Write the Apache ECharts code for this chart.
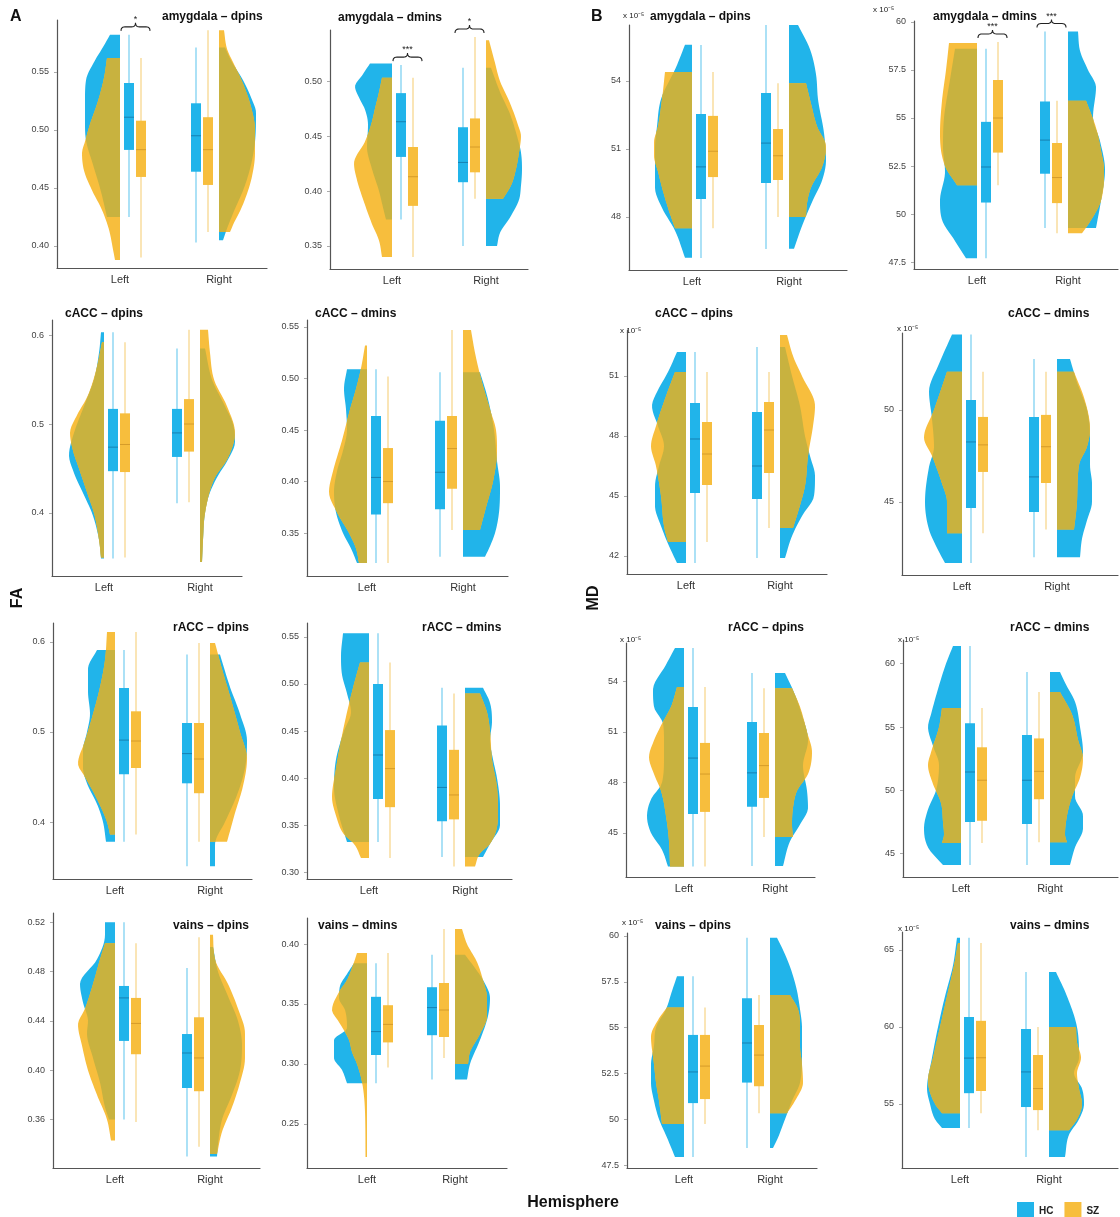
<!DOCTYPE html>
<html><head><meta charset="utf-8">
<script src="https://cdn.jsdelivr.net/npm/echarts@6/dist/echarts.min.js"></script>
<style>html,body{margin:0;padding:0;background:#fff}#c{width:1120px;height:1217px}</style>
</head><body><div id="c"></div>
<script>
// ---------------- DATA ----------------
const hemispheres = ['Left', 'Right'];
const groups = ['HC', 'SZ'];
const panelTitles = [
  'amygdala – dpins','amygdala – dmins','amygdala – dpins','amygdala – dmins',
  'cACC – dpins','cACC – dmins','cACC – dpins','cACC – dmins',
  'rACC – dpins','rACC – dmins','rACC – dpins','rACC – dmins',
  'vains – dpins','vains – dmins','vains – dpins','vains – dmins'];
const isMD = [false,false,true,true, false,false,true,true, false,false,true,true, false,false,true,true];
const yTicks = [
  [0.40,0.45,0.50,0.55],[0.35,0.40,0.45,0.50],[48,51,54],[47.5,50,52.5,55,57.5,60],
  [0.4,0.5,0.6],[0.35,0.40,0.45,0.50,0.55],[42,45,48,51],[45,50],
  [0.4,0.5,0.6],[0.30,0.35,0.40,0.45,0.50,0.55],[45,48,51,54],[45,50,55,60],
  [0.36,0.40,0.44,0.48,0.52],[0.25,0.30,0.35,0.40],[47.5,50,52.5,55,57.5,60],[55,60,65]];
const yTickLabels = [
  ['0.40','0.45','0.50','0.55'],['0.35','0.40','0.45','0.50'],['48','51','54'],['47.5','50','52.5','55','57.5','60'],
  ['0.4','0.5','0.6'],['0.35','0.40','0.45','0.50','0.55'],['42','45','48','51'],['45','50'],
  ['0.4','0.5','0.6'],['0.30','0.35','0.40','0.45','0.50','0.55'],['45','48','51','54'],['45','50','55','60'],
  ['0.36','0.40','0.44','0.48','0.52'],['0.25','0.30','0.35','0.40'],['47.5','50','52.5','55','57.5','60'],['55','60','65']];
const yMin = [0.381,0.3291,45.66,47.14, 0.3292,0.3083,41.1,41.03, 0.3367,0.2926,42.38,43.16, 0.3207,0.2133,47.34,50.84];
const yMax = [0.5948,0.5464,56.47,60.05, 0.6169,0.5568,53.3,54.18, 0.6211,0.5649,56.29,61.87, 0.5276,0.4217,60.16,66.17];

// box stats: [lower whisker, Q1, median, Q3, upper whisker]
const boxHC_L = [
  [0.425,0.4828,0.511,0.5405,0.582],[0.374,0.431,0.463,0.489,0.5145],[46.19,48.79,50.21,52.54,55.59],[47.7,50.6,52.45,54.8,58.6],
  [0.349,0.447,0.474,0.517,0.603],[0.321,0.368,0.404,0.4636,0.509],[41.65,45.15,47.85,49.65,52.2],[41.68,44.67,48.26,50.54,54.1],
  [0.378,0.453,0.491,0.549,0.591],[0.332,0.3777,0.4245,0.50,0.554],[43.0,46.13,49.45,52.49,55.99],[44.1,47.5,51.45,55.3,61.4],
  [0.36,0.4238,0.4587,0.4684,0.52],[0.284,0.3075,0.327,0.356,0.384],[47.94,50.88,52.58,54.6,57.8],[53.44,55.7,57.98,60.65,65.8]];
const boxSZ_L = [
  [0.39,0.4595,0.483,0.508,0.562],[0.34,0.3865,0.413,0.44,0.503],[47.5,49.76,50.9,52.46,54.4],[51.5,53.2,55.0,56.98,58.96],
  [0.35,0.446,0.477,0.512,0.592],[0.321,0.379,0.40,0.4325,0.502],[42.7,45.55,47.1,48.7,51.2],[43.3,46.63,48.1,49.62,52.07],
  [0.386,0.46,0.49,0.523,0.611],[0.315,0.369,0.41,0.451,0.523],[43.0,46.25,48.5,50.35,53.67],[45.85,47.6,50.8,53.4,56.5],
  [0.358,0.413,0.438,0.4587,0.503],[0.297,0.318,0.333,0.349,0.3925],[49.74,51.1,52.9,54.6,56.1],[54.4,55.84,58.0,60.4,65.45]];
const boxHC_R = [
  [0.403,0.464,0.495,0.523,0.571],[0.35,0.408,0.426,0.458,0.512],[46.59,49.5,51.26,53.47,56.47],[49.27,52.1,53.85,55.86,59.5],
  [0.411,0.463,0.49,0.517,0.585],[0.327,0.373,0.409,0.459,0.506],[41.9,44.85,46.5,49.2,52.45],[42.0,44.46,46.36,49.62,52.77],
  [0.351,0.443,0.476,0.51,0.586],[0.316,0.354,0.39,0.456,0.496],[43.04,46.55,48.57,51.6,54.5],[44.1,47.34,50.8,54.37,59.34],
  [0.33,0.3856,0.414,0.4294,0.483],[0.287,0.324,0.347,0.364,0.391],[48.43,52.0,54.16,56.6,59.9],[51.56,54.8,57.08,59.87,63.57]];
const boxSZ_R = [
  [0.412,0.4526,0.483,0.511,0.586],[0.393,0.417,0.44,0.466,0.54],[48.0,49.63,50.7,51.88,53.9],[49.0,50.57,51.9,53.7,55.9],
  [0.412,0.469,0.50,0.528,0.606],[0.353,0.393,0.432,0.4636,0.547],[43.4,46.15,48.3,49.7,51.2],[43.5,46.03,48.0,49.73,52.07],
  [0.378,0.432,0.47,0.51,0.599],[0.306,0.356,0.382,0.43,0.49],[44.76,47.08,49.0,50.94,53.6],[45.9,49.3,51.5,54.1,57.76],
  [0.338,0.383,0.41,0.443,0.508],[0.305,0.3225,0.345,0.3675,0.4125],[50.33,51.8,53.5,55.14,56.78],[53.3,54.6,56.0,58.18,60.0]];

// half-violin density profiles: [value, relative density (0–40 scale)]
const violinHC_L = [
  [[0.582,10],[0.57,18],[0.56,25],[0.543,34],[0.526,35],[0.505,35],[0.491,34],[0.47,27],[0.45,20],[0.425,13]],
  [[0.516,22],[0.505,30],[0.495,37],[0.485,33],[0.474,27],[0.46,24],[0.44,25],[0.42,20],[0.40,13],[0.385,9],[0.374,6]],
  [[55.6,7],[54.6,16],[53.2,31],[52,35],[51,37],[49.8,37],[49.3,37],[48.4,30],[47.4,17],[46.2,7]],
  [[58.6,22],[57,27],[55,33],[53.5,34],[52.2,32],[50.7,37],[49.7,35],[48.6,22],[47.7,11]],
  [[0.603,3],[0.58,5],[0.55,10],[0.52,20],[0.49,30],[0.465,35],[0.445,30],[0.42,20],[0.40,12],[0.37,5],[0.349,3]],
  [[0.509,20],[0.49,23],[0.47,21],[0.45,20],[0.43,24],[0.41,30],[0.39,33],[0.37,31],[0.35,24],[0.335,16],[0.321,10]],
  [[52.2,9],[51.2,18],[50.3,28],[49.5,34],[48.5,28],[47.5,22],[46.5,27],[45.5,31],[44.5,31],[43.5,25],[42.5,17],[41.65,9]],
  [[54.1,10],[52.5,23],[51,33],[49.5,30],[48,28],[46.9,33],[45,37],[43.5,33],[42.5,25],[41.68,17]],
  [[0.591,18],[0.57,27],[0.545,27],[0.52,25],[0.50,28],[0.48,32],[0.46,32],[0.443,28],[0.42,18],[0.40,12],[0.378,9]],
  [[0.554,26],[0.53,28],[0.51,27],[0.49,22],[0.47,18],[0.45,25],[0.42,33],[0.39,35],[0.36,30],[0.332,22]],
  [[56,9],[55,18],[53.5,31],[52.5,30],[51.5,21],[50.5,20],[49.5,20],[48,22],[47,33],[46,37],[45,33],[44,22],[43,16]],
  [[61.4,8],[60,15],[58,23],[56,30],[55,33],[53.5,28],[52,22],[50,25],[48.5,33],[47,37],[45.5,33],[44.1,18]],
  [[0.52,10],[0.51,10],[0.49,18],[0.47,35],[0.455,32],[0.44,27],[0.43,28],[0.41,22],[0.39,15],[0.37,10],[0.36,6]],
  [[0.384,13],[0.375,20],[0.365,27],[0.355,28],[0.345,22],[0.33,20],[0.32,33],[0.305,33],[0.295,25],[0.284,20]],
  [[57.8,7],[57,12],[56,18],[55,28],[54,30],[53,33],[52,33],[51,30],[50,25],[49,17],[47.94,9]],
  [[65.8,3],[64,7],[62,15],[60,22],[58,28],[56,33],[55,30],[54,25],[53.44,18]]];
const violinSZ_L = [
  [[0.562,13],[0.545,16],[0.525,22],[0.505,30],[0.49,35],[0.48,38],[0.465,36],[0.448,28],[0.431,18],[0.414,11],[0.397,7],[0.388,5]],
  [[0.503,10],[0.49,13],[0.475,17],[0.46,21],[0.445,27],[0.425,38],[0.41,35],[0.39,28],[0.37,20],[0.355,13],[0.34,10]],
  [[54.4,27],[53.2,30],[52,34],[51.3,38],[50.7,38],[50,34],[49.3,30],[48.4,24],[47.5,17]],
  [[58.9,28],[57.5,31],[55.9,35],[54.2,37],[52.5,32],[51.5,20]],
  [[0.592,2],[0.56,8],[0.53,17],[0.51,27],[0.49,34],[0.47,31],[0.45,25],[0.42,16],[0.40,10],[0.37,5],[0.35,3]],
  [[0.532,2],[0.51,6],[0.49,11],[0.47,17],[0.44,25],[0.41,34],[0.39,38],[0.37,30],[0.35,18],[0.335,11],[0.321,8]],
  [[51.2,11],[50,20],[48.5,30],[47.5,35],[46.5,30],[45,25],[43.5,22],[42.7,18]],
  [[52.07,15],[50,28],[48.5,38],[47.5,30],[46,20],[45,15],[43.3,15]],
  [[0.611,8],[0.58,10],[0.55,15],[0.52,22],[0.49,30],[0.465,37],[0.45,30],[0.43,20],[0.40,8],[0.386,5]],
  [[0.523,9],[0.50,15],[0.47,22],[0.44,28],[0.41,33],[0.38,37],[0.36,33],[0.34,25],[0.33,15],[0.315,8]],
  [[53.67,7],[52.5,13],[51.5,22],[50.5,30],[49.5,35],[48.5,30],[47.5,23],[46,18],[44.5,15],[43,14]],
  [[56.5,19],[55,22],[53,30],[52,33],[50.5,28],[49,20],[47.5,18],[46.5,17],[45.85,19]],
  [[0.503,10],[0.49,15],[0.47,22],[0.45,30],[0.437,37],[0.42,33],[0.40,27],[0.38,18],[0.36,8],[0.343,4]],
  [[0.3925,10],[0.38,15],[0.37,20],[0.36,28],[0.345,35],[0.335,28],[0.32,18],[0.31,15],[0.30,10],[0.285,5],[0.26,2],[0.2225,1.5]],
  [[56.1,17],[55.5,25],[54.5,33],[53,30],[52,28],[51,25],[49.74,22]],
  [[65.45,2],[64,6],[62,13],[60,20],[58,27],[56.5,32],[55,25],[54.4,18]]];
const violinHC_R = [
  [[0.571,6],[0.56,12],[0.543,24],[0.526,33],[0.515,37],[0.49,36],[0.47,32],[0.45,25],[0.43,15],[0.415,8],[0.405,4]],
  [[0.512,5],[0.49,14],[0.47,24],[0.45,31],[0.435,35],[0.42,36],[0.405,35],[0.392,33],[0.376,24],[0.362,14],[0.35,11]],
  [[56.47,9],[55.4,21],[54.3,27],[53.2,29],[51.7,35],[50.5,37],[49.6,33],[48.75,24],[47.6,13],[46.6,5]],
  [[59.5,10],[58.5,12],[57.5,20],[56.6,28],[55.05,25],[53.8,32],[52.3,37],[50.7,33],[49.27,28]],
  [[0.585,5],[0.55,12],[0.52,25],[0.50,33],[0.48,35],[0.46,28],[0.44,17],[0.42,9],[0.40,5],[0.37,3],[0.345,2]],
  [[0.506,17],[0.48,25],[0.45,31],[0.42,34],[0.395,37],[0.37,36],[0.35,32],[0.335,26],[0.327,22]],
  [[52.45,5],[51,12],[49.5,20],[48,25],[47,30],[46,35],[45,34],[44,22],[43,12],[41.9,5]],
  [[52.77,13],[51.5,20],[50,30],[48.5,33],[47,33],[46,35],[45,35],[44,30],[43,25],[42,23]],
  [[0.586,10],[0.55,20],[0.52,30],[0.49,37],[0.46,35],[0.43,27],[0.40,15],[0.375,5],[0.351,5]],
  [[0.496,18],[0.48,25],[0.46,27],[0.44,25],[0.42,28],[0.40,32],[0.37,35],[0.35,35],[0.33,25],[0.316,18]],
  [[54.5,10],[53.5,18],[52,27],[50.5,33],[49,28],[47.5,32],[46.5,33],[45.5,25],[44.5,15],[43.04,8]],
  [[59.34,10],[58.5,15],[57,25],[55,30],[53,33],[51,25],[49.5,25],[48,33],[47,33],[45.5,25],[44.1,20]],
  [[0.50,3],[0.48,8],[0.46,18],[0.44,28],[0.42,32],[0.40,30],[0.38,22],[0.36,12],[0.34,8],[0.33,7]],
  [[0.391,10],[0.38,20],[0.37,28],[0.355,35],[0.34,33],[0.32,25],[0.30,15],[0.287,12]],
  [[59.9,7],[59,15],[58,22],[57,27],[56,30],[55,32],[53.5,32],[52,30],[51,22],[50,15],[49,8],[48.43,3]],
  [[63.57,7],[62,18],[60,28],[58,30],[57,25],[56,33],[55,35],[54,30],[53,20],[51.56,16]]];
const violinSZ_R = [
  [[0.586,5],[0.57,8],[0.555,16],[0.54,24],[0.52,32],[0.50,36],[0.48,36],[0.46,33],[0.445,28],[0.43,21],[0.42,15],[0.412,11]],
  [[0.537,3],[0.52,8],[0.50,14],[0.48,24],[0.46,32],[0.45,35],[0.435,33],[0.42,30],[0.405,25],[0.393,17]],
  [[53.9,17],[53,22],[52,28],[51.1,37],[50.2,33],[49.3,22],[48.6,18],[48,17]],
  [[55.9,18],[54.5,28],[53.3,33],[52.3,36],[50.7,33],[49.6,22],[49.0,14]],
  [[0.606,8],[0.58,10],[0.55,14],[0.52,27],[0.49,35],[0.46,27],[0.44,15],[0.40,5],[0.37,3],[0.345,2]],
  [[0.547,8],[0.525,12],[0.50,18],[0.47,27],[0.45,33],[0.43,34],[0.40,30],[0.375,23],[0.353,17]],
  [[53.05,7],[52,13],[51,22],[49.5,35],[48.5,33],[47,28],[45.5,25],[44.2,18],[43.4,13]],
  [[52.07,17],[50.5,28],[49,33],[48,30],[47,22],[45,20],[43.5,17]],
  [[0.599,5],[0.57,12],[0.54,20],[0.50,30],[0.47,37],[0.44,33],[0.41,25],[0.39,20],[0.378,17]],
  [[0.49,15],[0.47,22],[0.45,25],[0.42,27],[0.39,32],[0.36,33],[0.33,25],[0.32,15],[0.306,10]],
  [[53.6,17],[52.5,25],[51,32],[49.8,37],[48.5,33],[47.5,22],[46.5,18],[45.5,17],[44.76,18]],
  [[57.76,10],[56,22],[54,28],[52.5,33],[51,30],[49.5,22],[48,17],[46.5,15],[45.9,17]],
  [[0.51,3],[0.49,5],[0.47,18],[0.45,28],[0.43,35],[0.41,35],[0.39,30],[0.37,22],[0.35,12],[0.332,7]],
  [[0.4125,7],[0.40,12],[0.385,22],[0.37,28],[0.355,32],[0.34,32],[0.325,25],[0.31,15],[0.30,13]],
  [[56.78,20],[56,28],[55,30],[54,30],[53,32],[52,33],[51,25],[50.33,17]],
  [[60,27],[59,28],[58,32],[57,28],[56,30],[55,33],[54,28],[53.3,20]]];
const sigLeft  = ['*','***',null,'***', null,null,null,null, null,null,null,null, null,null,null,null];
const sigRight = [null,'*',null,'***', null,null,null,null, null,null,null,null, null,null,null,null];

// ---------------- LAYOUT / STYLE ----------------
const gL = [57,330,629,914, 52,307,627,902, 53,307,626,903, 53,307,627,902];
const gT = [20,30,25,21, 320,320,330,333, 623,623,643,640, 913,918,933,932];
const gR = [267,528,847,1118, 242,508,827,1118, 252,512,815,1118, 260,507,817,1118];
const gB = [268,269,270,269, 576,576,574,575, 879,879,877,877, 1168,1168,1168,1168];
const baseLx = [120,392,692,977, 104,367,686,962, 115,369,684,961, 115,367,684,960];
const baseRx = [219,486,789,1068, 200,463,780,1057, 210,465,775,1050, 210,455,770,1049];
const titleX = [162,338,650,933, 65,315,655,1008, 173,422,728,1010, 173,318,655,1010];
const titleY = [17,18,17,17, 314,314,314,314, 628,628,628,628, 926,926,926,926];
const expX = {2:623, 3:873, 6:620, 7:897, 10:620, 11:898, 14:622, 15:898};
const expY = {2:16, 3:10, 6:331, 7:329, 10:640, 11:640, 14:923, 15:929};

const BLUE = '#21B4EA', YELLOW = '#F7BE3D', OLIVE = '#C8B23F';
const BLUE_W = '#67C9EE', YELLOW_W = '#F6D07A';
const BLUE_MED = '#1681B3', YELLOW_MED = '#D69C2A';
const FONT = '"Liberation Sans", Arial, sans-serif';
const BOXW = 10;
const OFF = {L: [9, 21], R: [-23, -11]};

function interp(pts) {
  const s = pts.slice().sort((a, b) => a[0] - b[0]);
  const n = s.length, x = s.map(d => d[0]), y = s.map(d => d[1]);
  const d = [], m = new Array(n);
  for (let i = 0; i < n - 1; i++) d.push((y[i + 1] - y[i]) / (x[i + 1] - x[i]));
  m[0] = d[0]; m[n - 1] = d[n - 2];
  for (let i = 1; i < n - 1; i++) m[i] = d[i - 1] * d[i] <= 0 ? 0 : (d[i - 1] + d[i]) / 2;
  for (let i = 0; i < n - 1; i++) {
    if (d[i] === 0) { m[i] = 0; m[i + 1] = 0; continue; }
    const a = m[i] / d[i], b = m[i + 1] / d[i], t = a * a + b * b;
    if (t > 9) { const k = 3 / Math.sqrt(t); m[i] = k * a * d[i]; m[i + 1] = k * b * d[i]; }
  }
  return {
    lo: x[0], hi: x[n - 1],
    f(v) {
      if (v <= x[0]) return y[0];
      if (v >= x[n - 1]) return y[n - 1];
      let i = 0; while (v > x[i + 1]) i++;
      const h = x[i + 1] - x[i], t = (v - x[i]) / h, t2 = t * t, t3 = t2 * t;
      return (2*t3 - 3*t2 + 1) * y[i] + (t3 - 2*t2 + t) * h * m[i] + (-2*t3 + 3*t2) * y[i + 1] + (t3 - t2) * h * m[i + 1];
    }
  };
}

function violinShape(lo, hi, wf, base, dir, pos, api, color) {
  const N = 64, pts = [];
  for (let i = 0; i <= N; i++) {
    const v = hi - (hi - lo) * i / N;
    const py = api.coord([pos, v])[1];
    pts.push([base + dir * wf(v), py]);
  }
  pts.push([base, api.coord([pos, lo])[1]]);
  pts.push([base, api.coord([pos, hi])[1]]);
  return {type: 'polygon', shape: {points: pts}, style: {fill: color, stroke: null}};
}

function quad(p0, c, p1, out) {
  for (let k = 1; k <= 6; k++) {
    const t = k / 6, a = (1 - t) * (1 - t), b = 2 * (1 - t) * t, e = t * t;
    out.push([a * p0[0] + b * c[0] + e * p1[0], a * p0[1] + b * c[1] + e * p1[1]]);
  }
}
function brace(x0, x1, y) {
  const xm = (x0 + x1) / 2, h = 4, pts = [[x0, y + h]];
  quad([x0, y + h], [x0, y], [x0 + 4, y], pts);
  pts.push([xm - 4, y]);
  quad([xm - 4, y], [xm, y], [xm, y - h], pts);
  quad([xm, y - h], [xm, y], [xm + 4, y], pts);
  pts.push([x1 - 4, y]);
  quad([x1 - 4, y], [x1, y], [x1, y + h], pts);
  return {type: 'polyline', shape: {points: pts}, style: {stroke: '#222', lineWidth: 1.1, fill: null}};
}

function boxEls(stats, cx, pos, api, fill, wcol, mcol) {
  const py = v => api.coord([pos, v])[1];
  const [lo, q1, med, q3, hi] = stats;
  return [
    {type: 'line', shape: {x1: cx, y1: py(hi), x2: cx, y2: py(lo)}, style: {stroke: wcol, lineWidth: 1.1}},
    {type: 'rect', shape: {x: cx - BOXW / 2, y: py(q3), width: BOXW, height: py(q1) - py(q3)}, style: {fill: fill}},
    {type: 'line', shape: {x1: cx - BOXW / 2, y1: py(med), x2: cx + BOXW / 2, y2: py(med)}, style: {stroke: mcol, lineWidth: 1}}
  ];
}

function makeRender(p) {
  return function (params, api) {
    const h = params.dataIndex, pos = h + 1, dir = h === 0 ? -1 : 1;
    const base = api.coord([pos, yMin[p]])[0];
    const vh = interp(h === 0 ? violinHC_L[p] : violinHC_R[p]);
    const vs = interp(h === 0 ? violinSZ_L[p] : violinSZ_R[p]);
    const ch = [];
    ch.push(violinShape(vh.lo, vh.hi, vh.f, base, dir, pos, api, BLUE));
    ch.push(violinShape(vs.lo, vs.hi, vs.f, base, dir, pos, api, YELLOW));
    const lo = Math.max(vh.lo, vs.lo), hi = Math.min(vh.hi, vs.hi);
    if (hi > lo) ch.push(violinShape(lo, hi, v => Math.min(vh.f(v), vs.f(v)), base, dir, pos, api, OLIVE));
    const off = h === 0 ? OFF.L : OFF.R;
    const bH = h === 0 ? boxHC_L[p] : boxHC_R[p];
    const bS = h === 0 ? boxSZ_L[p] : boxSZ_R[p];
    ch.push(...boxEls(bH, base + off[0], pos, api, BLUE, BLUE_W, BLUE_MED));
    ch.push(...boxEls(bS, base + off[1], pos, api, YELLOW, YELLOW_W, YELLOW_MED));
    const sig = h === 0 ? sigLeft[p] : sigRight[p];
    if (sig) {
      const top = Math.min(api.coord([pos, bH[4]])[1], api.coord([pos, bS[4]])[1]) - 8;
      const x0 = base + off[0] - 8, x1 = base + off[1] + 9;
      ch.push(brace(x0, x1, top));
      ch.push({type: 'text', x: (x0 + x1) / 2, y: top - 3,
        style: {text: sig, align: 'center', verticalAlign: 'bottom', font: '9px ' + FONT, fill: '#222'}});
    }
    return {type: 'group', children: ch};
  };
}

// ---------------- OPTION ----------------
const grid = [], xAxis = [], yAxis = [], series = [], graphic = [];
for (let p = 0; p < 16; p++) {
  grid.push({left: gL[p], top: gT[p], width: gR[p] - gL[p], height: gB[p] - gT[p]});
  const s = baseRx[p] - baseLx[p];
  xAxis.push({
    gridIndex: p, type: 'value',
    min: 1 - (baseLx[p] - gL[p]) / s, max: 2 + (gR[p] - baseRx[p]) / s,
    axisLine: {show: true, onZero: false, lineStyle: {color: '#555', width: 1.2}},
    axisTick: {show: false}, splitLine: {show: false},
    axisLabel: {customValues: [1, 2], formatter: v => hemispheres[Math.round(v) - 1],
      fontSize: 11, color: '#333', margin: 6, fontFamily: FONT}
  });
  const ticks = yTicks[p], labs = yTickLabels[p];
  yAxis.push({
    gridIndex: p, type: 'value', min: yMin[p], max: yMax[p],
    axisLine: {show: true, onZero: false, lineStyle: {color: '#555', width: 1.2}},
    axisTick: {show: true, customValues: ticks, length: 3, lineStyle: {color: '#aaa'}},
    splitLine: {show: false},
    axisLabel: {customValues: ticks, fontSize: 9, color: '#444', margin: 8, fontFamily: FONT,
      formatter: v => { const i = ticks.findIndex(t => Math.abs(t - v) < 1e-9); return i >= 0 ? labs[i] : ''; }}
  });
  series.push({
    type: 'custom', xAxisIndex: p, yAxisIndex: p, clip: false, silent: true,
    data: [[1, yMin[p]], [2, yMin[p]]], renderItem: makeRender(p)
  });
  graphic.push({type: 'text', x: titleX[p], y: titleY[p],
    style: {text: panelTitles[p], font: 'bold 12px ' + FONT, fill: '#111', textVerticalAlign: 'middle', verticalAlign: 'middle'}});
  if (isMD[p]) {
    graphic.push({type: 'text', x: expX[p], y: expY[p],
      style: {text: 'x 10⁻⁵', font: '8px ' + FONT, fill: '#222', textVerticalAlign: 'middle', verticalAlign: 'middle'}});
  }
}
series.push({type: 'scatter', name: 'HC', xAxisIndex: 0, yAxisIndex: 0, data: [], itemStyle: {color: BLUE, opacity: 1}});
series.push({type: 'scatter', name: 'SZ', xAxisIndex: 0, yAxisIndex: 0, data: [], itemStyle: {color: YELLOW, opacity: 1}});

graphic.push(
  {type: 'text', x: 10, y: 17, style: {text: 'A', font: 'bold 16px ' + FONT, fill: '#111', textVerticalAlign: 'middle', verticalAlign: 'middle'}},
  {type: 'text', x: 591, y: 17, style: {text: 'B', font: 'bold 16px ' + FONT, fill: '#111', textVerticalAlign: 'middle', verticalAlign: 'middle'}},
  {type: 'text', x: 18, y: 598, rotation: Math.PI / 2,
    style: {text: 'FA', font: 'bold 16px ' + FONT, fill: '#111', align: 'center', textAlign: 'center', verticalAlign: 'middle', textVerticalAlign: 'middle'}},
  {type: 'text', x: 594, y: 598, rotation: Math.PI / 2,
    style: {text: 'MD', font: 'bold 16px ' + FONT, fill: '#111', align: 'center', textAlign: 'center', verticalAlign: 'middle', textVerticalAlign: 'middle'}},
  {type: 'text', x: 573, y: 1203,
    style: {text: 'Hemisphere', font: 'bold 16px ' + FONT, fill: '#111', align: 'center', textAlign: 'center', verticalAlign: 'middle', textVerticalAlign: 'middle'}}
);

const chart = echarts.init(document.getElementById('c'), null, {renderer: 'canvas'});
chart.setOption({
  backgroundColor: '#fff', animation: false,
  grid, xAxis, yAxis, series, graphic,
  legend: {data: groups, left: 1012, top: 1197, icon: 'rect', itemWidth: 17, itemHeight: 18, itemGap: 11,
    itemStyle: {opacity: 1},
    textStyle: {fontSize: 10, fontWeight: 'bold', color: '#222', fontFamily: FONT}, selectedMode: false}
});
</script></body></html>
